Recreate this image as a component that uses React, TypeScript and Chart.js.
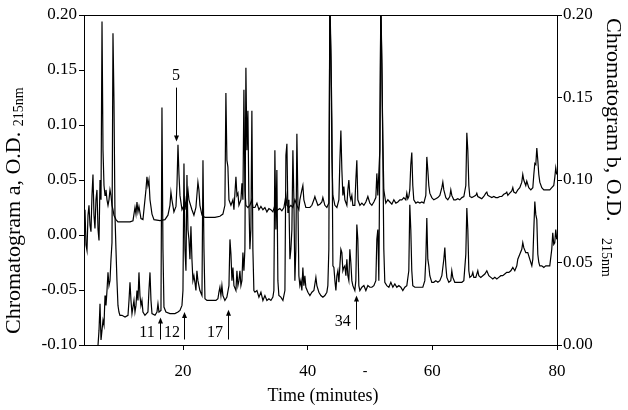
import { useEffect, useRef } from 'react';
import { Chart, registerables } from 'chart.js';

Chart.register(...registerables);

// ---- Chromatogram a (left axis) ----
const TIME_A = [
  4.26, 4.42, 4.58, 4.74, 4.90, 5.06, 5.22, 5.38, 5.54, 5.70, 5.86, 6.02, 6.18, 6.35, 6.51, 6.67, 6.83, 6.99, 7.15, 7.31,
  7.47, 7.63, 7.79, 7.95, 8.11, 8.27, 8.43, 8.59, 8.75, 8.91, 9.23, 9.55, 10.68, 11.48, 11.96, 12.28, 12.44, 12.60, 12.76, 12.92,
  13.24, 13.56, 14.04, 14.20, 14.36, 14.52, 14.69, 15.01, 15.33, 16.29, 17.09, 17.57, 17.89, 18.05, 18.21, 18.53, 18.86, 19.02, 19.18, 19.34,
  19.50, 19.82, 20.14, 20.30, 20.46, 20.62, 20.78, 20.94, 21.10, 21.42, 21.74, 22.06, 22.38, 22.54, 22.70, 23.03, 23.51, 25.11, 25.91, 26.39,
  26.71, 26.87, 27.03, 27.19, 27.36, 27.68, 28.00, 28.16, 28.48, 28.64, 28.80, 28.96, 29.28, 29.44, 29.60, 29.76, 29.92, 30.08, 30.40, 30.72,
  31.04, 31.20, 31.53, 31.85, 32.17, 32.49, 32.81, 33.13, 33.45, 33.77, 34.09, 34.41, 34.73, 34.89, 35.21, 35.53, 35.85, 36.18, 36.50, 36.66,
  36.98, 37.30, 37.62, 37.94, 38.26, 38.58, 38.74, 39.06, 39.22, 39.38, 39.70, 40.03, 40.35, 40.67, 40.99, 41.15, 41.31, 41.63, 41.95, 42.27,
  42.43, 42.75, 43.07, 43.39, 43.55, 43.72, 43.88, 44.04, 44.36, 44.68, 45.00, 45.16, 45.32, 45.48, 45.64, 45.80, 45.96, 46.28, 46.44, 46.60,
  46.76, 46.92, 47.08, 47.24, 47.56, 47.72, 47.88, 48.04, 48.37, 48.69, 49.01, 49.33, 49.65, 49.97, 50.29, 50.61, 50.93, 51.09, 51.25, 51.57,
  51.73, 51.89, 52.05, 52.21, 52.53, 52.86, 53.18, 53.50, 53.82, 54.14, 54.46, 54.78, 55.10, 55.42, 55.74, 55.90, 56.06, 56.22, 56.38, 56.54,
  56.70, 56.86, 57.02, 57.35, 57.67, 57.99, 58.31, 58.63, 58.95, 59.11, 59.27, 59.43, 59.59, 59.91, 60.23, 60.55, 60.88, 61.20, 61.52, 61.68,
  61.84, 62.16, 62.48, 62.80, 62.96, 63.12, 63.44, 63.76, 64.08, 64.40, 64.73, 65.05, 65.37, 65.53, 65.69, 65.85, 66.01, 66.33, 66.65, 66.97,
  67.13, 67.29, 67.61, 67.93, 68.25, 68.58, 68.74, 68.90, 69.22, 69.54, 69.86, 70.18, 70.50, 70.82, 71.14, 71.46, 71.78, 71.94, 72.11, 72.42,
  72.75, 72.91, 73.07, 73.39, 73.71, 74.03, 74.35, 74.51, 74.67, 74.99, 75.15, 75.47, 75.80, 76.12, 76.28, 76.44, 76.60, 76.76, 76.92, 77.08,
  77.24, 77.56, 77.88, 78.20, 78.52, 78.84, 79.16, 79.48, 79.64, 79.80, 79.96,
];
const OD_A = [
  0.023, -0.009, -0.014, 0.018, 0.027, 0.009, 0.003, 0.036, 0.055, 0.018, 0.006, 0.032, 0.041, 0.005, -0.005, 0.050, 0.032, 0.194, 0.077, 0.045,
  0.036, 0.041, 0.032, 0.027, 0.032, 0.041, 0.036, 0.027, 0.023, 0.018, 0.014, 0.012, 0.012, 0.012, 0.013, 0.025, 0.019, 0.030, 0.021, 0.026,
  0.015, 0.014, 0.041, 0.053, 0.045, 0.050, 0.032, 0.019, 0.014, 0.013, 0.014, 0.018, 0.027, 0.039, 0.032, 0.021, 0.026, 0.045, 0.082, 0.055,
  0.036, 0.023, 0.027, 0.032, 0.023, 0.036, 0.041, 0.032, 0.029, 0.023, 0.018, 0.025, 0.048, 0.041, 0.027, 0.018, 0.016, 0.016, 0.017, 0.019,
  0.027, 0.129, 0.068, 0.062, 0.032, 0.027, 0.032, 0.023, 0.053, 0.036, 0.038, 0.027, 0.032, 0.047, 0.032, 0.132, 0.041, 0.027, 0.025, 0.027,
  0.032, 0.025, 0.025, 0.029, 0.023, 0.026, 0.023, 0.025, 0.021, 0.024, 0.023, 0.021, 0.027, 0.021, 0.023, 0.024, 0.022, 0.025, 0.036, 0.027,
  0.025, 0.027, 0.025, 0.032, 0.027, 0.023, 0.032, 0.041, 0.045, 0.032, 0.025, 0.025, 0.025, 0.027, 0.032, 0.035, 0.032, 0.027, 0.028, 0.030,
  0.034, 0.027, 0.025, 0.029, 0.210, 0.159, 0.071, 0.036, 0.027, 0.025, 0.032, 0.068, 0.095, 0.059, 0.036, 0.044, 0.032, 0.027, 0.041, 0.050,
  0.036, 0.032, 0.036, 0.027, 0.027, 0.050, 0.068, 0.032, 0.027, 0.029, 0.027, 0.030, 0.035, 0.029, 0.027, 0.030, 0.034, 0.056, 0.036, 0.077,
  0.210, 0.156, 0.088, 0.041, 0.029, 0.032, 0.030, 0.028, 0.032, 0.029, 0.030, 0.032, 0.032, 0.034, 0.032, 0.038, 0.033, 0.035, 0.041, 0.064,
  0.075, 0.045, 0.032, 0.029, 0.030, 0.029, 0.030, 0.029, 0.036, 0.071, 0.059, 0.045, 0.038, 0.034, 0.032, 0.033, 0.034, 0.036, 0.043, 0.048,
  0.041, 0.034, 0.032, 0.035, 0.041, 0.036, 0.032, 0.032, 0.033, 0.032, 0.034, 0.035, 0.045, 0.093, 0.077, 0.045, 0.035, 0.034, 0.035, 0.036,
  0.038, 0.035, 0.034, 0.033, 0.035, 0.038, 0.039, 0.036, 0.035, 0.034, 0.035, 0.034, 0.034, 0.035, 0.035, 0.037, 0.038, 0.039, 0.036, 0.038,
  0.040, 0.043, 0.039, 0.038, 0.041, 0.043, 0.048, 0.055, 0.050, 0.045, 0.049, 0.043, 0.041, 0.043, 0.055, 0.065, 0.064, 0.079, 0.068, 0.055,
  0.048, 0.043, 0.041, 0.041, 0.041, 0.041, 0.043, 0.045, 0.052, 0.061, 0.055,
];

// ---- Chromatogram b (right axis) ----
const TIME_B = [
  6.35, 6.51, 6.67, 6.83, 6.99, 7.15, 7.31, 7.47, 7.63, 7.79, 7.95, 8.11, 8.27, 8.43, 8.59, 8.75, 8.91, 9.07, 9.23, 9.39,
  9.55, 9.71, 9.87, 10.19, 10.68, 11.16, 11.32, 11.48, 11.64, 11.80, 12.12, 12.28, 12.44, 12.60, 12.76, 12.92, 13.08, 13.24, 13.40, 13.56,
  13.88, 14.36, 14.52, 14.69, 14.85, 15.01, 15.49, 15.81, 15.97, 16.13, 16.45, 16.61, 16.77, 16.93, 17.25, 17.89, 18.69, 19.18, 19.50, 19.82,
  19.98, 20.14, 20.30, 20.46, 20.62, 20.78, 20.94, 21.10, 21.26, 21.42, 21.58, 21.74, 21.90, 22.06, 22.22, 22.38, 22.70, 23.03, 23.19, 23.35,
  23.51, 23.83, 24.31, 24.79, 25.27, 25.59, 25.75, 25.91, 26.07, 26.23, 26.39, 26.71, 27.03, 27.36, 27.52, 27.68, 27.84, 28.00, 28.16, 28.48,
  28.64, 28.80, 28.96, 29.12, 29.28, 29.44, 29.60, 29.76, 29.92, 30.08, 30.24, 30.40, 30.56, 30.72, 30.88, 31.04, 31.20, 31.36, 31.53, 31.85,
  32.17, 32.49, 32.81, 33.13, 33.45, 33.77, 34.09, 34.41, 34.57, 34.73, 34.89, 35.05, 35.21, 35.37, 35.69, 36.02, 36.34, 36.50, 36.66, 36.82,
  36.98, 37.14, 37.30, 37.46, 37.62, 37.78, 37.94, 38.10, 38.26, 38.42, 38.58, 38.74, 38.90, 39.06, 39.22, 39.38, 39.54, 39.70, 40.03, 40.35,
  40.67, 40.99, 41.31, 41.47, 41.79, 42.11, 42.43, 42.75, 43.07, 43.23, 43.39, 43.55, 43.72, 43.88, 44.04, 44.20, 44.36, 44.52, 44.68, 44.84,
  45.00, 45.16, 45.32, 45.48, 45.64, 45.80, 45.96, 46.12, 46.28, 46.44, 46.60, 46.76, 46.92, 47.08, 47.24, 47.56, 47.72, 47.88, 48.04, 48.20,
  48.37, 48.69, 49.01, 49.33, 49.65, 49.97, 50.29, 50.61, 50.93, 51.09, 51.25, 51.41, 51.57, 51.73, 51.89, 52.05, 52.21, 52.37, 52.69, 53.02,
  53.34, 53.66, 53.98, 54.30, 54.62, 54.94, 55.26, 55.58, 55.90, 56.22, 56.38, 56.54, 56.70, 56.86, 57.19, 57.67, 58.15, 58.47, 58.79, 58.95,
  59.11, 59.27, 59.43, 59.59, 59.91, 60.23, 60.55, 60.88, 61.20, 61.52, 61.68, 61.84, 62.00, 62.16, 62.32, 62.64, 62.96, 63.12, 63.28, 63.60,
  64.08, 64.40, 64.73, 65.05, 65.37, 65.53, 65.69, 65.85, 66.01, 66.33, 66.49, 66.65, 66.97, 67.29, 67.45, 67.77, 68.09, 68.42, 68.74, 69.06,
  69.38, 69.70, 70.02, 70.34, 70.66, 70.98, 71.30, 71.62, 71.94, 72.27, 72.59, 72.91, 73.23, 73.55, 73.71, 74.03, 74.35, 74.51, 74.67, 74.99,
  75.31, 75.63, 75.96, 76.12, 76.28, 76.44, 76.60, 76.76, 76.92, 77.08, 77.24, 77.56, 77.88, 78.20, 78.52, 78.84, 79.16, 79.32, 79.48, 79.64,
  79.80, 79.96,
];
const OD_B = [
  0.000, 0.009, 0.025, 0.003, 0.009, 0.015, 0.012, 0.030, 0.024, 0.033, 0.044, 0.036, 0.039, 0.052, 0.062, 0.189, 0.148, 0.079, 0.058, 0.039,
  0.024, 0.020, 0.018, 0.018, 0.017, 0.018, 0.027, 0.038, 0.027, 0.019, 0.027, 0.020, 0.024, 0.033, 0.027, 0.044, 0.030, 0.024, 0.027, 0.020,
  0.018, 0.020, 0.033, 0.044, 0.027, 0.019, 0.018, 0.020, 0.025, 0.020, 0.021, 0.144, 0.058, 0.023, 0.020, 0.019, 0.019, 0.020, 0.021, 0.024,
  0.033, 0.110, 0.058, 0.045, 0.103, 0.070, 0.064, 0.052, 0.072, 0.052, 0.039, 0.042, 0.038, 0.033, 0.045, 0.039, 0.033, 0.030, 0.112, 0.058,
  0.028, 0.027, 0.027, 0.027, 0.027, 0.028, 0.032, 0.035, 0.030, 0.036, 0.030, 0.027, 0.029, 0.036, 0.064, 0.055, 0.039, 0.047, 0.036, 0.033,
  0.045, 0.036, 0.039, 0.045, 0.036, 0.039, 0.056, 0.045, 0.058, 0.168, 0.118, 0.142, 0.088, 0.058, 0.070, 0.142, 0.058, 0.033, 0.032, 0.033,
  0.029, 0.032, 0.027, 0.030, 0.027, 0.028, 0.027, 0.029, 0.033, 0.118, 0.070, 0.106, 0.039, 0.030, 0.029, 0.027, 0.033, 0.115, 0.122, 0.080,
  0.088, 0.052, 0.058, 0.070, 0.118, 0.088, 0.039, 0.058, 0.128, 0.088, 0.042, 0.036, 0.039, 0.033, 0.047, 0.036, 0.042, 0.035, 0.032, 0.030,
  0.032, 0.033, 0.041, 0.036, 0.032, 0.030, 0.029, 0.030, 0.032, 0.036, 0.058, 0.210, 0.179, 0.136, 0.048, 0.047, 0.039, 0.033, 0.042, 0.045,
  0.038, 0.048, 0.058, 0.056, 0.045, 0.047, 0.048, 0.042, 0.052, 0.042, 0.039, 0.058, 0.050, 0.039, 0.036, 0.033, 0.039, 0.073, 0.064, 0.036,
  0.033, 0.035, 0.036, 0.033, 0.036, 0.035, 0.035, 0.036, 0.039, 0.064, 0.070, 0.039, 0.118, 0.210, 0.173, 0.118, 0.058, 0.038, 0.036, 0.035,
  0.038, 0.035, 0.037, 0.035, 0.036, 0.035, 0.033, 0.035, 0.036, 0.045, 0.085, 0.070, 0.045, 0.036, 0.035, 0.035, 0.035, 0.035, 0.039, 0.052,
  0.077, 0.052, 0.048, 0.042, 0.038, 0.038, 0.039, 0.038, 0.039, 0.042, 0.047, 0.052, 0.059, 0.048, 0.041, 0.038, 0.039, 0.045, 0.041, 0.038,
  0.038, 0.038, 0.038, 0.039, 0.055, 0.083, 0.070, 0.045, 0.041, 0.042, 0.044, 0.041, 0.041, 0.045, 0.042, 0.041, 0.042, 0.043, 0.045, 0.042,
  0.041, 0.040, 0.041, 0.040, 0.041, 0.042, 0.042, 0.043, 0.044, 0.044, 0.045, 0.047, 0.045, 0.048, 0.052, 0.055, 0.058, 0.062, 0.059, 0.056,
  0.056, 0.052, 0.048, 0.052, 0.070, 0.087, 0.079, 0.076, 0.055, 0.050, 0.048, 0.048, 0.047, 0.048, 0.048, 0.048, 0.058, 0.068, 0.061, 0.062,
  0.070, 0.064,
];

// ---- axes ----
const X_TICKS = [20, 40, 60, 80];
const Y_LEFT_TICKS = [-0.1, -0.05, 0, 0.05, 0.1, 0.15, 0.2];
const Y_RIGHT_TICKS = [0, 0.05, 0.1, 0.15, 0.2];

// ---- peak markers (time, arrow tip / tail and label position on the left axis) ----
const MARK_LABELS = ['5', '11', '12', '17', '34'];
const MARK_TIMES = [18.86, 16.29, 20.14, 27.19, 47.72];
const MARK_TIP = [0.085, -0.075, -0.07, -0.068, -0.055];
const MARK_TAIL = [0.134, -0.095, -0.095, -0.095, -0.086];
const LABEL_TIMES = [18.86, 14.2, 18.21, 25.11, 45.64];
const LABEL_OD = [0.145, -0.089, -0.089, -0.089, -0.079];

const SERIF = "'Liberation Serif', 'Times New Roman', serif";

const overlay = {
  id: 'overlay',
  afterDraw(chart: any) {
    const { ctx, chartArea, scales } = chart;
    const xs = scales.x;
    const ys = scales.y;
    ctx.save();
    ctx.strokeStyle = '#000';
    ctx.fillStyle = '#000';
    ctx.lineWidth = 1;
    // top frame line
    ctx.beginPath();
    ctx.moveTo(chartArea.left, Math.round(chartArea.top) + 0.5);
    ctx.lineTo(chartArea.right, Math.round(chartArea.top) + 0.5);
    ctx.stroke();

    // arrows and their labels
    ctx.font = `16px ${SERIF}`;
    ctx.textAlign = 'center';
    ctx.textBaseline = 'middle';
    MARK_LABELS.forEach((lab, i) => {
      const x = Math.round(xs.getPixelForValue(MARK_TIMES[i])) + 0.5;
      const yTip = ys.getPixelForValue(MARK_TIP[i]);
      const yTail = ys.getPixelForValue(MARK_TAIL[i]);
      const dir = yTip > yTail ? 1 : -1;
      ctx.beginPath();
      ctx.moveTo(x, yTail);
      ctx.lineTo(x, yTip - dir * 4);
      ctx.stroke();
      ctx.beginPath();
      ctx.moveTo(x, yTip);
      ctx.lineTo(x - 2.5, yTip - dir * 6);
      ctx.lineTo(x + 2.5, yTip - dir * 6);
      ctx.closePath();
      ctx.fill();
      ctx.fillText(lab, xs.getPixelForValue(LABEL_TIMES[i]), ys.getPixelForValue(LABEL_OD[i]));
    });

    // x axis title
    ctx.font = `18px ${SERIF}`;
    ctx.textAlign = 'center';
    ctx.textBaseline = 'alphabetic';
    ctx.fillText('Time (minutes)', 323, 401);
    // small stray dash in the tick-label row, as in the original
    ctx.font = `14px ${SERIF}`;
    ctx.fillText('-', 365, 375);

    // left axis title (reads bottom to top)
    ctx.save();
    ctx.translate(20, 334);
    ctx.rotate(-Math.PI / 2);
    ctx.textAlign = 'left';
    ctx.font = `22px ${SERIF}`;
    const mainA = 'Chromatogram a, O.D. ';
    ctx.fillText(mainA, 0, 0);
    const wA = ctx.measureText(mainA).width;
    ctx.font = `14px ${SERIF}`;
    ctx.fillText('215nm', wA, 3);
    ctx.restore();

    // right axis title (reads top to bottom)
    ctx.save();
    ctx.translate(607, 18);
    ctx.rotate(Math.PI / 2);
    ctx.textAlign = 'left';
    ctx.font = `22px ${SERIF}`;
    const mainB = 'Chromatogram b, O.D.   ';
    ctx.fillText(mainB, 0, 0);
    const wB = ctx.measureText(mainB).width;
    ctx.font = `14px ${SERIF}`;
    ctx.fillText('215nm', wB, 5);
    ctx.restore();

    ctx.restore();
  },
};

export default function App() {
  const ref = useRef<HTMLCanvasElement>(null);
  useEffect(() => {
    const tickFont = { family: SERIF, size: 17 };
    const chart = new Chart(ref.current!, {
      type: 'line',
      data: {
        datasets: [
          {
            data: TIME_A.map((t, i) => ({ x: t, y: OD_A[i] })),
            yAxisID: 'y',
            borderColor: '#000',
            borderWidth: 1.2,
            pointRadius: 0,
            tension: 0,
            fill: false,
          },
          {
            data: TIME_B.map((t, i) => ({ x: t, y: OD_B[i] })),
            yAxisID: 'y1',
            borderColor: '#000',
            borderWidth: 1.2,
            pointRadius: 0,
            tension: 0,
            fill: false,
          },
        ],
      },
      options: {
        responsive: false,
        animation: false,
        devicePixelRatio: 1,
        layout: { padding: { top: 15, left: 0, right: 0, bottom: 0 } },
        plugins: { legend: { display: false }, tooltip: { enabled: false } },
        scales: {
          x: {
            type: 'linear',
            min: 4.1,
            max: 80,
            afterBuildTicks: (s: any) => {
              s.ticks = X_TICKS.map((v) => ({ value: v }));
            },
            afterFit: (s: any) => {
              s.height = 65;
              s.paddingLeft = 0;
              s.paddingRight = 0;
            },
            ticks: { font: tickFont, color: '#000', padding: 11, maxRotation: 0, autoSkip: false },
            grid: { drawOnChartArea: false, drawTicks: true, tickLength: 5, color: '#000' },
            border: { display: true, color: '#000', width: 1 },
          },
          y: {
            type: 'linear',
            position: 'left',
            min: -0.1,
            max: 0.2,
            afterBuildTicks: (s: any) => {
              s.ticks = Y_LEFT_TICKS.map((v) => ({ value: v }));
            },
            afterFit: (s: any) => {
              s.width = 84;
              s.paddingTop = 0;
              s.paddingBottom = 0;
            },
            ticks: { font: tickFont, color: '#000', padding: 2, callback: (v: any) => Number(v).toFixed(2) },
            grid: { drawOnChartArea: false, drawTicks: true, tickLength: 5, color: '#000' },
            border: { display: true, color: '#000', width: 1 },
          },
          y1: {
            type: 'linear',
            position: 'right',
            min: 0,
            max: 0.2,
            afterBuildTicks: (s: any) => {
              s.ticks = Y_RIGHT_TICKS.map((v) => ({ value: v }));
            },
            afterFit: (s: any) => {
              s.width = 71;
              s.paddingTop = 0;
              s.paddingBottom = 0;
            },
            ticks: { font: tickFont, color: '#000', padding: 1, callback: (v: any) => Number(v).toFixed(2) },
            grid: { drawOnChartArea: false, drawTicks: true, tickLength: 5, color: '#000' },
            border: { display: true, color: '#000', width: 1 },
          },
        },
      },
      plugins: [overlay],
    } as any);
    return () => chart.destroy();
  }, []);
  return (
    <div style={{ position: 'absolute', left: 0, top: 0, width: 628, height: 410, background: '#fff' }}>
      <canvas ref={ref} width={628} height={410} style={{ display: 'block' }} />
    </div>
  );
}
